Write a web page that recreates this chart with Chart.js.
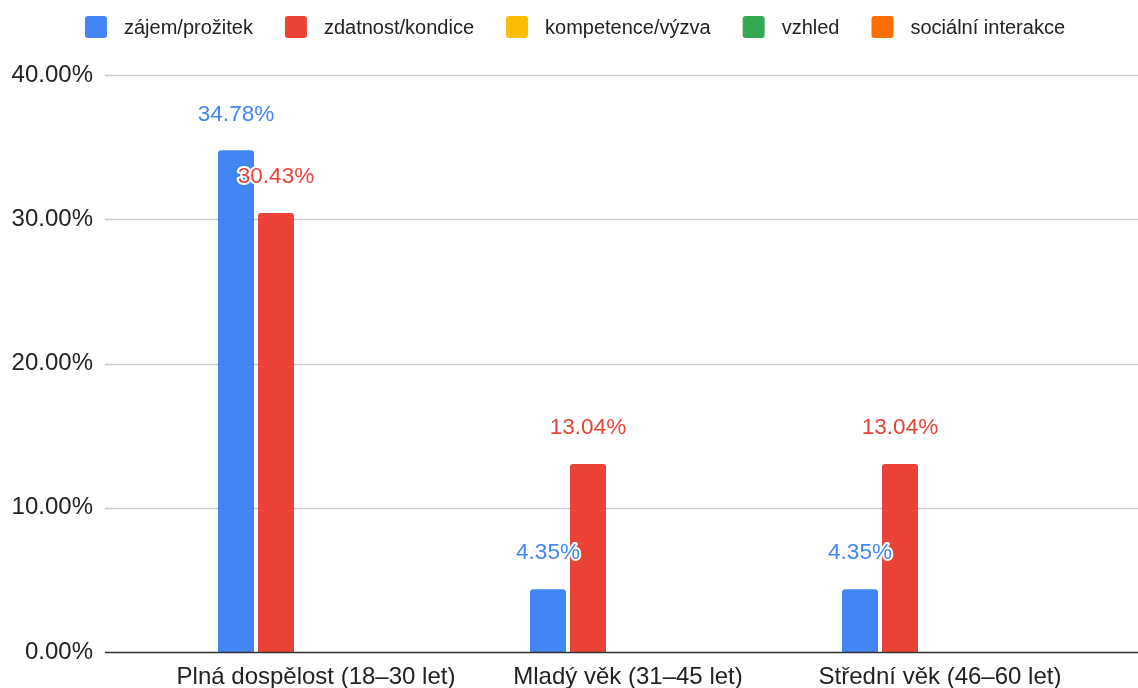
<!DOCTYPE html>
<html>
<head>
<meta charset="utf-8">
<title>Motivace podle věku</title>
<script src="https://cdn.jsdelivr.net/npm/chart.js@4/dist/chart.umd.min.js"></script>
<style>
    html, body { margin: 0; padding: 0; background: #fff; }
    #chart { display: block; }
</style>
</head>
<body>
<canvas id="chart" width="1138" height="688"></canvas>
<script>
// Data
const categories = ['Plná dospělost (18–30 let)', 'Mladý věk (31–45 let)', 'Střední věk (46–60 let)'];
const seriesNames = ['zájem/prožitek', 'zdatnost/kondice', 'kompetence/výzva', 'vzhled', 'sociální interakce'];
const seriesColors = ['#4285F4', '#EA4335', '#FBBC04', '#34A853', '#FF6D01'];
const zajem = [34.78, 4.35, 4.35];
const zdatnost = [30.43, 13.04, 13.04];
const kompetence = [0, 0, 0];
const vzhled = [0, 0, 0];
const socialni = [0, 0, 0];
const yMax = 40;
const yStep = 10;

const FONT = '"Liberation Sans", Arial, Helvetica, sans-serif';
const seriesValues = [zajem, zdatnost, kompetence, vzhled, socialni];

// gridlines run wider than the category area, like in Sheets
const gridPlugin = {
    id: 'sheetGrid',
    beforeDatasetsDraw(chart) {
        const { ctx, scales: { y } } = chart;
        const left = 105, right = chart.width;
        ctx.save();
        y.ticks.forEach(t => {
            if (t.value === 0) return;
            const py = Math.round(y.getPixelForValue(t.value)) + 0.5;
            ctx.strokeStyle = '#cccccc';
            ctx.lineWidth = 1.5;
            ctx.beginPath();
            ctx.moveTo(left, py);
            ctx.lineTo(right, py);
            ctx.stroke();
        });
        ctx.restore();
    },
    afterDatasetsDraw(chart) {
        const { ctx, scales: { y } } = chart;
        const py = Math.round(y.getPixelForValue(0)) + 0.5;
        ctx.save();
        ctx.strokeStyle = '#333333';
        ctx.lineWidth = 1.5;
        ctx.beginPath();
        ctx.moveTo(105, py);
        ctx.lineTo(chart.width, py);
        ctx.stroke();
        ctx.restore();
    }
};

// value labels above bars, white halo
const valueLabels = {
    id: 'valueLabels',
    afterDatasetsDraw(chart) {
        const ctx = chart.ctx;
        ctx.save();
        ctx.font = '22.5px ' + FONT;
        ctx.textAlign = 'center';
        ctx.textBaseline = 'middle';
        ctx.lineJoin = 'round';
        chart.data.datasets.forEach((ds, i) => {
            const meta = chart.getDatasetMeta(i);
            meta.data.forEach((bar, j) => {
                const v = ds.data[j];
                if (!v) return;
                const txt = v.toFixed(2) + '%';
                const ty = bar.y - 36;
                ctx.strokeStyle = '#ffffff';
                ctx.lineWidth = 4;
                ctx.strokeText(txt, bar.x, ty);
                ctx.fillStyle = ds.backgroundColor;
                ctx.fillText(txt, bar.x, ty);
            });
        });
        ctx.restore();
    }
};

// legend row at top
const topLegend = {
    id: 'topLegend',
    afterDraw(chart) {
        const ctx = chart.ctx;
        const box = 22, gapText = 17, gapItem = 32;
        ctx.save();
        ctx.font = '20px ' + FONT;
        const items = chart.data.datasets.map(ds => ({
            text: ds.label,
            color: ds.backgroundColor,
            w: ctx.measureText(ds.label).width
        }));
        const total = items.reduce((s, it) => s + box + gapText + it.w, 0) + gapItem * (items.length - 1);
        let x = (chart.width - total) / 2 + 6;
        const cy = 27;
        items.forEach(it => {
            ctx.fillStyle = it.color;
            ctx.beginPath();
            ctx.roundRect(x, cy - box / 2, box, box, 3);
            ctx.fill();
            ctx.fillStyle = '#222222';
            ctx.textAlign = 'left';
            ctx.textBaseline = 'middle';
            ctx.fillText(it.text, x + box + gapText, cy + 1);
            x += box + gapText + it.w + gapItem;
        });
        ctx.restore();
    }
};

new Chart(document.getElementById('chart'), {
    type: 'bar',
    data: {
        labels: categories,
        datasets: seriesNames.map((name, i) => ({
            label: name,
            data: seriesValues[i],
            backgroundColor: seriesColors[i],
            borderRadius: 3,
            borderSkipped: 'start',
            categoryPercentage: 0.641,
            barPercentage: 0.9
        }))
    },
    options: {
        responsive: false,
        animation: false,
        layout: { padding: { top: 75, right: 42, bottom: 0, left: 0 } },
        plugins: {
            legend: { display: false },
            tooltip: { enabled: false }
        },
        scales: {
            x: {
                grid: { display: false, drawTicks: false },
                border: { display: false },
                ticks: {
                    color: '#222222',
                    font: { family: FONT, size: 24 },
                    padding: 11,
                    maxRotation: 0,
                    autoSkip: false
                },
                afterFit: s => { s.height = 36; }
            },
            y: {
                min: 0,
                max: yMax,
                grid: { display: false, drawTicks: false },
                border: { display: false },
                ticks: {
                    stepSize: yStep,
                    color: '#222222',
                    font: { family: FONT, size: 24 },
                    padding: 67,
                    callback: v => v.toFixed(2) + '%'
                },
                // tick padding also pads the axis vertically; undo that
                afterFit: s => {
                    s.width = 160;
                    s.paddingTop = 14;
                    s.paddingBottom = 14;
                }
            }
        }
    },
    plugins: [gridPlugin, valueLabels, topLegend]
});
</script>
</body>
</html>
